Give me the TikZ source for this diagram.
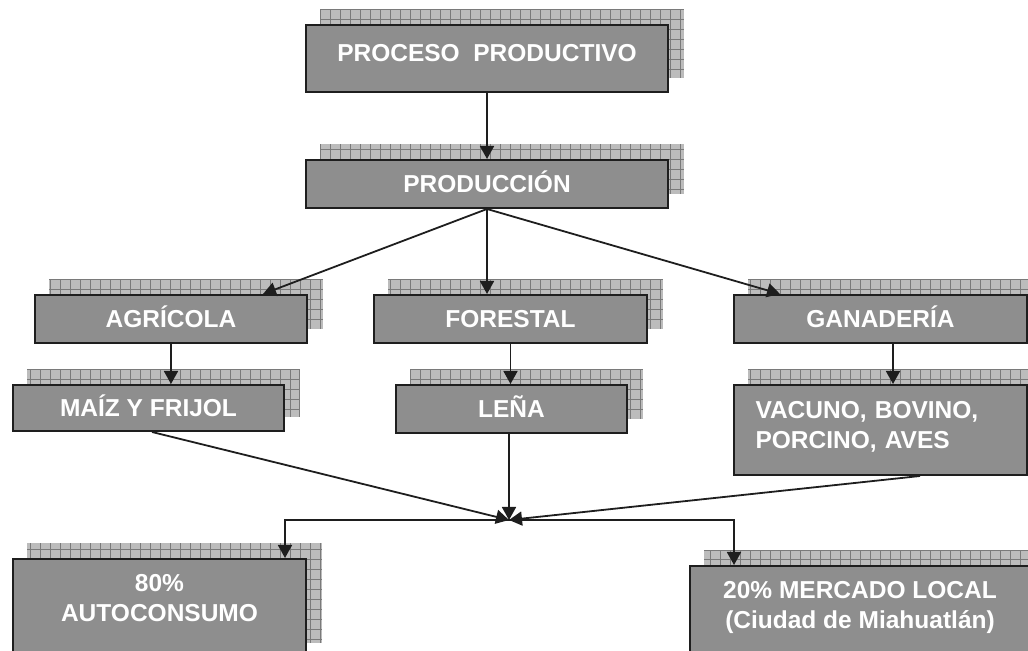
\documentclass[tikz,border=0pt]{standalone}
\usepackage{fontspec}
\setmainfont{Liberation Sans}
\usetikzlibrary{arrows.meta,backgrounds}
\definecolor{boxgray}{HTML}{8E8E8E}
\definecolor{boxline}{HTML}{1E1E1E}
\definecolor{shadefill}{HTML}{BCBCBC}
\definecolor{shadeline}{HTML}{7A7A7A}
\tikzset{
  flowbox/.style={draw=boxline, line width=1pt, fill=boxgray, text=white,
    font=\fontsize{12.25}{15}\selectfont\bfseries, align=center,
    text height=8.8pt, text depth=0pt, inner sep=0pt},
  shadowgrid/.style={draw=shadeline, line width=0.5pt, step=5pt},
  flowarrow/.style={-{Triangle[length=6.5pt,width=7pt]}, line width=0.9pt,
    draw=boxline},
}
\begin{document}
\begin{tikzpicture}[x=0.5pt,y=-0.5pt]
  \useasboundingbox (0,0) rectangle (1028,651);
  \clip (0,0) rectangle (1028,651);
  % boxes
  \node[flowbox, minimum width=181pt, minimum height=33.5pt, text depth=6pt]
    (proceso) at (487,58.5) {PROCESO~~PRODUCTIVO};
  \node[flowbox, minimum width=181pt, minimum height=24pt]
    (produccion) at (487,184) {PRODUCCIÓN};
  \node[flowbox, minimum width=136pt, minimum height=24pt]
    (agricola) at (171,319) {AGRÍCOLA};
  \node[flowbox, minimum width=136.5pt, minimum height=24pt]
    (forestal) at (510.5,319) {FORESTAL};
  \node[flowbox, minimum width=146.5pt, minimum height=24pt]
    (ganaderia) at (880.5,319) {GANADERÍA};
  \node[flowbox, minimum width=135.5pt, minimum height=23pt]
    (maiz) at (148.5,408) {MAÍZ Y FRIJOL};
  \node[flowbox, minimum width=115.5pt, minimum height=24pt]
    (lena) at (511.5,409) {LEÑA};
  \node[flowbox, minimum width=146.5pt, minimum height=45pt, text depth=20pt,
    text width=125pt, align=left]
    (vacuno) at (880.5,430) {VACUNO, BOVINO,\\PORCINO, AVES};
  \node[flowbox, minimum width=146.5pt, minimum height=49pt,
    text height=23.8pt, text depth=10pt]
    (autoconsumo) at (159.5,608) {80\%\\AUTOCONSUMO};
  \node[flowbox, minimum width=170pt, minimum height=49pt,
    text height=23.8pt, text depth=10.5pt]
    (mercado) at (860,615) {20\% MERCADO LOCAL\\(Ciudad de Miahuatlán)};
  % grid shadows behind the boxes
  \begin{scope}[on background layer]
    \clip (0,0) rectangle (1028,651);
    \foreach \n in {proceso,produccion,agricola,forestal,ganaderia,maiz,lena,vacuno,autoconsumo,mercado}{
      \fill[shadefill] ([shift={(7.5pt,7.5pt)}]\n.south west)
        rectangle ([shift={(7.5pt,7.5pt)}]\n.north east);
      \draw[shadowgrid] ([shift={(7.5pt,7.5pt)}]\n.south west)
        grid ([shift={(7.5pt,7.5pt)}]\n.north east);
    }
  \end{scope}
  \coordinate (merge) at (509,520);
  % connectors
  \draw[flowarrow] (proceso.south) -- (produccion.north);
  \draw[flowarrow] (produccion.south) -- ([xshift=46pt]agricola.north);
  \draw[flowarrow] (produccion.south) -- (produccion.south |- forestal.north);
  \draw[flowarrow] (produccion.south) -- ([xshift=-50.25pt]ganaderia.north);
  \draw[flowarrow] (agricola.south) -- (agricola.south |- maiz.north);
  \draw[flowarrow] (forestal.south) -- (forestal.south |- lena.north);
  \draw[flowarrow] ([xshift=6.25pt]ganaderia.south)
    -- ([xshift=6.25pt]ganaderia.south |- vacuno.north);
  \draw[flowarrow] ([xshift=1.75pt]maiz.south) -- (merge);
  \draw[flowarrow] (lena.south -| merge) -- (merge);
  \draw[flowarrow] ([xshift=19.75pt]vacuno.south) -- (merge);
  \draw[flowarrow] (merge) -| ([xshift=-11pt]autoconsumo.north east);
  \draw[flowarrow] (merge) -| ([xshift=22.5pt]mercado.north west);
\end{tikzpicture}
\end{document}
